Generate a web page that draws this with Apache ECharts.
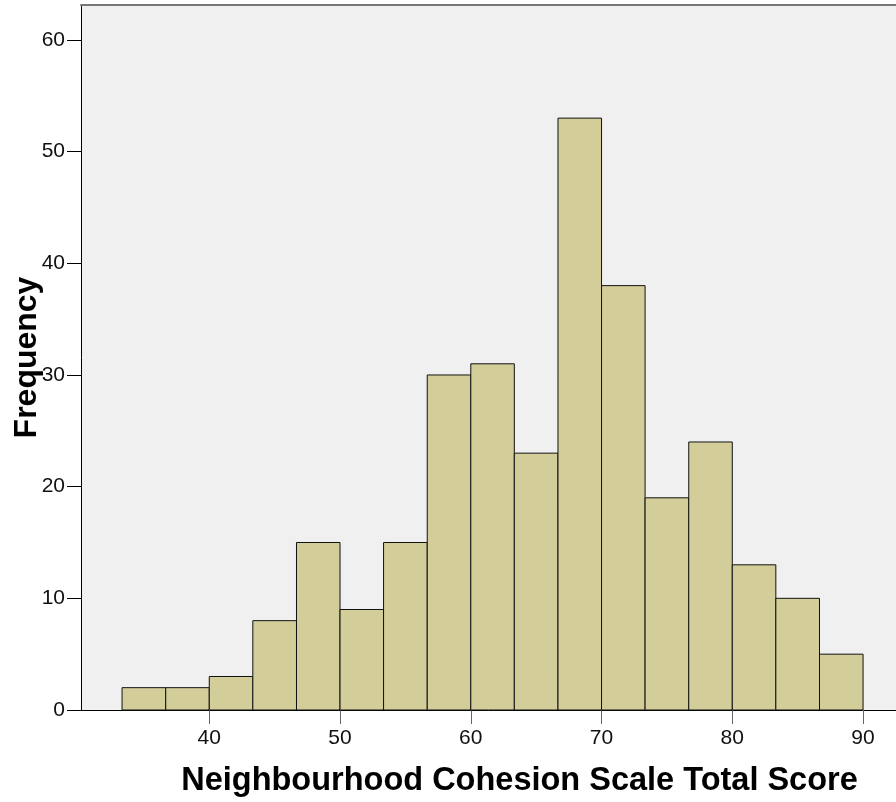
<!DOCTYPE html>
<html>
<head>
<meta charset="utf-8">
<script src="https://cdn.jsdelivr.net/npm/echarts@6/dist/echarts.min.js"></script>
<style>
  html, body { margin: 0; padding: 0; background: #fff; }
  #hist { width: 896px; height: 802px; }
</style>
</head>
<body>
<div id="hist"></div>
<script>
var chart = echarts.init(document.getElementById('hist'));

// bin edges (score), 17 bins of width 10/3
var binEdges = [33.33, 36.67, 40, 43.33, 46.67, 50, 53.33, 56.67, 60, 63.33,
                66.67, 70, 73.33, 76.67, 80, 83.33, 86.67, 90];
// frequency per bin
var counts = [2, 2, 3, 8, 15, 9, 15, 30, 31, 23, 53, 38, 19, 24, 13, 10, 5];

var xTicks = [40, 50, 60, 70, 80, 90];
var yTicks = [0, 10, 20, 30, 40, 50, 60];

var bins = counts.map(function (c, i) {
    return [binEdges[i], binEdges[i + 1], c];
});

var font = "'Liberation Sans', Arial, sans-serif";

option = {
    animation: false,
    grid: {
        left: 81,
        right: 0,
        top: 5,
        bottom: 92,
        show: true,
        backgroundColor: '#f0f0f0',
        borderWidth: 0,
        containLabel: false,
        outerBoundsMode: 'none'
    },
    xAxis: [
        {
            type: 'value',
            min: 30.19,
            max: 92.52,
            name: 'Neighbourhood Cohesion Scale Total Score',
            nameLocation: 'middle',
            nameGap: 55,
            nameMoveOverlap: false,
            nameTextStyle: {
                fontFamily: font,
                fontWeight: 'bold',
                fontSize: 32.5,
                color: '#000',
                padding: [0, 0, 0, 62]
            },
            axisLine: { lineStyle: { color: '#000', width: 1 } },
            axisTick: {
                length: 14,
                customValues: xTicks,
                lineStyle: { color: '#666' }
            },
            axisLabel: {
                customValues: xTicks,
                margin: 18,
                fontFamily: font,
                fontSize: 21,
                color: '#111'
            },
            splitLine: { show: false }
        },
        {
            // top frame line of the plot area
            type: 'value',
            position: 'top',
            min: 30.19,
            max: 92.52,
            axisLine: { show: true, lineStyle: { color: '#777', width: 2 } },
            axisTick: { show: false },
            axisLabel: { show: false },
            splitLine: { show: false }
        }
    ],
    yAxis: {
        type: 'value',
        min: 0,
        max: 63.13,
        name: 'Frequency',
        nameLocation: 'middle',
        nameGap: 38,
        nameMoveOverlap: false,
        nameTextStyle: {
            fontFamily: font,
            fontWeight: 'bold',
            fontSize: 32,
            color: '#000'
        },
        axisLine: { show: true, lineStyle: { color: '#000', width: 1 } },
        axisTick: {
            show: true,
            length: 14,
            customValues: yTicks,
            lineStyle: { color: '#000' }
        },
        axisLabel: {
            customValues: yTicks,
            margin: 16,
            fontFamily: font,
            fontSize: 21,
            color: '#111'
        },
        splitLine: { show: false }
    },
    series: [{
        type: 'custom',
        xAxisIndex: 0,
        data: bins,
        encode: { x: [0, 1], y: 2 },
        renderItem: function (params, api) {
            var p0 = api.coord([api.value(0), api.value(2)]);
            var p1 = api.coord([api.value(1), 0]);
            return {
                type: 'rect',
                shape: {
                    x: p0[0],
                    y: p0[1],
                    width: p1[0] - p0[0],
                    height: p1[1] - p0[1]
                },
                style: {
                    fill: '#d3ce99',
                    stroke: '#111',
                    lineWidth: 1
                }
            };
        }
    }]
};

chart.setOption(option);
</script>
</body>
</html>
